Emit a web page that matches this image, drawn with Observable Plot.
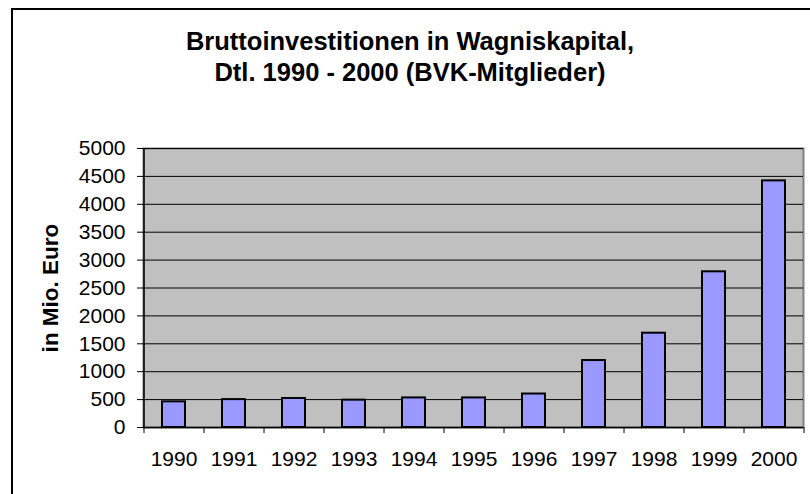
<!DOCTYPE html>
<html>
<head>
<meta charset="utf-8">
<script src="https://cdn.jsdelivr.net/npm/d3@7"></script>
<script src="https://cdn.jsdelivr.net/npm/@observablehq/plot@0.6"></script>
<style>
  html, body { margin: 0; padding: 0; background: #fff; }
  body { width: 810px; height: 494px; overflow: hidden; position: relative; font-family: Arial, "Liberation Sans", sans-serif; }
  #border { position: absolute; left: 11px; top: 8px; width: 900px; height: 700px; border: 2px solid #000; box-sizing: border-box; }
  #title { position: relative; height: 100px; box-sizing: border-box; padding-top: 26px; text-align: center; font-weight: bold; font-size: 25.5px; line-height: 31px; color: #000; width: 820px; }
  #chart { position: relative; }
</style>
</head>
<body>
<div id="border"></div>
<div id="title">Bruttoinvestitionen in Wagniskapital,<br>Dtl. 1990 - 2000 (BVK-Mitglieder)</div>
<div id="chart"></div>
<script>
const years = ["1990","1991","1992","1993","1994","1995","1996","1997","1998","1999","2000"];
const values = [460, 500, 520, 490, 530, 530, 600, 1200, 1690, 2790, 4420];
const yTicks = [0,500,1000,1500,2000,2500,3000,3500,4000,4500,5000];
const yLabel = "in Mio. Euro";

const data = years.map((y, i) => ({year: y, value: values[i]}));
const half = 30;

const plot = Plot.plot({
  width: 810,
  height: 394,
  marginLeft: 143,
  marginRight: 7,
  marginTop: 48,
  marginBottom: 67,
  style: {fontFamily: 'Arial, "Liberation Sans", sans-serif', fontSize: "21px", color: "#000", background: "transparent"},
  x: {domain: years, paddingInner: 0.617, paddingOuter: 0.3083, label: null},
  y: {domain: [0, 5000], label: null},
  marks: [
    Plot.frame({fill: "#c0c0c0", stroke: "#808080", strokeWidth: 2}),
    Plot.gridY(yTicks, {stroke: "#000", strokeOpacity: 1, strokeWidth: 1}),
    Plot.barY(data, {x: "year", y: "value", fill: "#9999ff", stroke: "#000", strokeWidth: 2}),
    Plot.ruleY([0], {stroke: "#000", strokeWidth: 1.5}),
    Plot.ruleX([years[0]], {x: d => d, dx: -half, y1: 0, y2: 5000, stroke: "#000", strokeWidth: 1.5}),
    Plot.axisY(yTicks, {tickSize: 6, tickPadding: 12, fontSize: 21, tickFormat: d => String(d), label: null, stroke: "#000"}),
    Plot.axisX(years, {tickSize: 6, dx: -half, tickFormat: () => "", label: null, stroke: "#000"}),
    Plot.axisX([years[years.length - 1]], {tickSize: 6, dx: half, tickFormat: () => "", label: null, stroke: "#000"}),
    Plot.axisX(years, {tickSize: 0, tickPadding: 24, fontSize: 21, label: null}),
    Plot.text([yLabel], {text: d => d, frameAnchor: "left", textAnchor: "middle", rotate: -90, dx: -93, fontSize: 22.5, fontWeight: "bold", fill: "#000"})
  ]
});
document.getElementById("chart").appendChild(plot);
</script>
</body>
</html>
